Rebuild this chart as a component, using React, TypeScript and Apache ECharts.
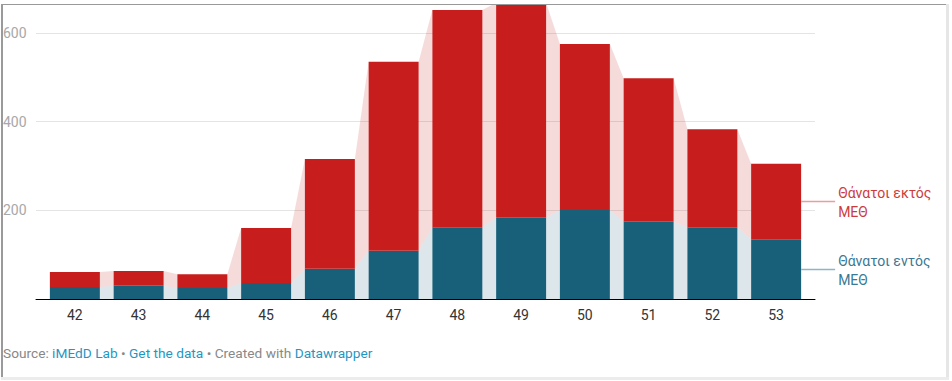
import React, { useEffect, useRef } from "react";
import * as echarts from "echarts";

const weeks = ["42", "43", "44", "45", "46", "47", "48", "49", "50", "51", "52", "53"];
const insideICU = [27, 30, 25, 36, 68, 109, 162, 183, 201, 174, 162, 135];
const outsideICU = [34, 33, 31, 124, 248, 426, 490, 485, 374, 324, 221, 170];
const seriesNames = ["Θάνατοι εντός\nΜΕΘ", "Θάνατοι εκτός\nΜΕΘ"];
const Y_MIN = 0;
const Y_MAX = 800;
const Y_STEP = 200;

const TOP_OFF = 70;
const W = 952;
const H = 381 + TOP_OFF;
const BAR_W = 50;
const RED = "#c71e1d";
const BLUE = "#18607a";
const FONT = "Roboto";

export default function App() {
  const ref = useRef<HTMLDivElement>(null);
  useEffect(() => {
    if (!ref.current) return;
    const chart = echarts.init(ref.current, null, { renderer: "svg" });
    const totals = insideICU.map((v, i) => v + outsideICU[i]);
    const gaps = weeks.slice(0, -1).map((_, i) => [
      i,
      insideICU[i],
      totals[i],
      insideICU[i + 1],
      totals[i + 1],
    ]);
    const last = weeks.length - 1;
    const legendData = [[last, insideICU[last], totals[last]]];

    const gridTop = 14.33;
    const gridBottom = 82;

    chart.setOption({
      animation: false,
      grid: [
        { left: 36, right: 137, top: gridTop, bottom: gridBottom },
        { left: 43, right: 144, top: gridTop, bottom: gridBottom },
      ],
      xAxis: [
        {
          gridIndex: 0,
          type: "value",
          min: 0,
          max: 1,
          z: 10,
          axisLine: { show: true, lineStyle: { color: "#000", width: 1 } },
          axisTick: { show: false },
          axisLabel: { show: false },
          splitLine: { show: false },
        },
        {
          gridIndex: 1,
          type: "category",
          data: weeks,
          axisLine: { show: false },
          axisTick: { show: false },
          axisLabel: { color: "#333", fontSize: 14, fontFamily: FONT, margin: 9 },
          splitLine: { show: false },
        },
      ],
      yAxis: [
        {
          gridIndex: 0,
          type: "value",
          min: Y_MIN,
          max: Y_MAX,
          interval: Y_STEP,
          axisLine: { show: false },
          axisTick: { show: false },
          splitLine: { show: true, lineStyle: { color: "#e4e4e4", width: 1 } },
          axisLabel: {
            align: "left",
            margin: 33,
            color: "#a8a8a8",
            fontSize: 14,
            fontFamily: FONT,
            showMinLabel: false,
            showMaxLabel: false,
          },
        },
        {
          gridIndex: 1,
          type: "value",
          min: Y_MIN,
          max: Y_MAX,
          show: false,
        },
      ],
      series: [
        {
          type: "custom",
          xAxisIndex: 1,
          yAxisIndex: 1,
          z: 1,
          silent: true,
          data: gaps,
          renderItem: (params: any, api: any) => {
            const i = api.value(0);
            const half = BAR_W / 2;
            const xa = api.coord([i, 0])[0] + half;
            const xb = api.coord([i + 1, 0])[0] - half;
            const y0 = api.coord([i, 0])[1];
            const yB0 = api.coord([i, api.value(1)])[1];
            const yT0 = api.coord([i, api.value(2)])[1];
            const yB1 = api.coord([i + 1, api.value(3)])[1];
            const yT1 = api.coord([i + 1, api.value(4)])[1];
            return {
              type: "group",
              children: [
                {
                  type: "polygon",
                  shape: { points: [[xa, yT0], [xb, yT1], [xb, yB1], [xa, yB0]] },
                  style: { fill: "rgba(199,30,29,0.16)" },
                },
                {
                  type: "polygon",
                  shape: { points: [[xa, yB0], [xb, yB1], [xb, y0], [xa, y0]] },
                  style: { fill: "rgba(24,96,122,0.15)" },
                },
              ],
            };
          },
        },
        {
          type: "bar",
          name: seriesNames[0],
          stack: "total",
          xAxisIndex: 1,
          yAxisIndex: 1,
          barWidth: BAR_W,
          itemStyle: { color: BLUE },
          data: insideICU,
          z: 3,
        },
        {
          type: "bar",
          name: seriesNames[1],
          stack: "total",
          xAxisIndex: 1,
          yAxisIndex: 1,
          barWidth: BAR_W,
          itemStyle: { color: RED },
          data: outsideICU,
          z: 3,
        },
        {
          type: "custom",
          xAxisIndex: 1,
          yAxisIndex: 1,
          z: 4,
          silent: true,
          data: legendData,
          renderItem: (params: any, api: any) => {
            const idx = api.value(0);
            const ins = api.value(1);
            const tot = api.value(2);
            const xr = api.coord([idx, 0])[0] + BAR_W / 2;
            const yRed = Math.round(api.coord([idx, (ins + tot) / 2])[1]) + 0.5;
            const yBlue = Math.round(api.coord([idx, ins / 2])[1]) + 0.5;
            const mk = (y: number, lineColor: string, textColor: string, text: string) => [
              {
                type: "line",
                shape: { x1: xr, y1: y, x2: xr + 34, y2: y },
                style: { stroke: lineColor, lineWidth: 1.5 },
              },
              {
                type: "text",
                x: xr + 37,
                y: y + 1,
                style: {
                  text,
                  fill: textColor,
                  fontSize: 14,
                  fontFamily: FONT,
                  align: "left",
                  verticalAlign: "middle",
                  lineHeight: 19,
                },
              },
            ];
            return {
              type: "group",
              children: [
                ...mk(yRed, "#eb9c9d", "#cc3b3c", seriesNames[1]),
                ...mk(yBlue, "#8fb4c3", "#3a7893", seriesNames[0]),
              ],
            };
          },
        },
      ],
      graphic: [
        {
          type: "text",
          x: 3,
          y: 353 + TOP_OFF,
          style: {
            text: "{g|Source: }{b|iMEdD Lab}{g| • }{b|Get the data}{g| • Created with }{b|Datawrapper}",
            fontSize: 13.7,
            fontFamily: FONT,
            verticalAlign: "middle",
            rich: {
              g: { fill: "#888888", fontSize: 13.7, fontFamily: FONT },
              b: { fill: "#1f97c2", fontSize: 13.7, fontFamily: FONT },
            },
          },
        },
      ],
    });
    return () => chart.dispose();
  }, []);

  return (
    <div
      style={{
        position: "absolute",
        left: 0,
        top: 0,
        width: W,
        height: 381,
        overflow: "hidden",
        background: "#fff",
      }}
    >
      <div
        ref={ref}
        style={{ position: "absolute", left: 0, top: -TOP_OFF, width: W, height: H }}
      />
      <div style={{ position: "absolute", left: 0, top: 0, width: W, height: 3.5, background: "#fff" }} />
      <div style={{ position: "absolute", left: 1, top: 3.5, width: 947, height: 1.4, background: "#999" }} />
      <div style={{ position: "absolute", left: 1, top: 3.5, width: 1.5, height: 373, background: "#9a9a9a" }} />
      <div style={{ position: "absolute", left: 946, top: 3.5, width: 2.5, height: 373, background: "#e6e6e6" }} />
      <div style={{ position: "absolute", left: 948.5, top: 0, width: 4, height: 381, background: "#fff" }} />
      <div style={{ position: "absolute", left: 1, top: 376.5, width: 947.5, height: 3.5, background: "#ececec" }} />
    </div>
  );
}
